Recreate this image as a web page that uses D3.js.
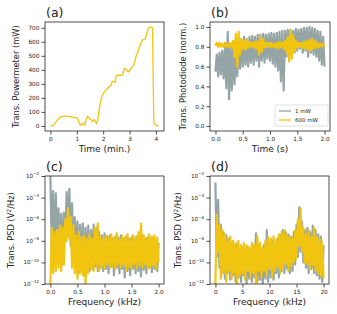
<!DOCTYPE html>
<html>
<head>
<meta charset="utf-8">
<script src="https://cdn.jsdelivr.net/npm/d3@7"></script>
<style>
  body { margin: 0; background: white; }
  text { font-family: "DejaVu Sans", sans-serif; fill: #222; }
</style>
</head>
<body>
<script>
'use strict';

// (a) transmitted power vs time
const powerTime = [0, 0.1, 0.2, 0.3, 0.4, 0.5, 0.6, 0.7, 0.8, 0.9, 1.0, 1.05, 1.1, 1.15, 1.2, 1.25, 1.3, 1.35, 1.4, 1.5,
  1.55, 1.6, 1.65, 1.7, 1.75, 1.8, 1.85, 1.9, 1.95, 2.0, 2.1, 2.2, 2.3, 2.35, 2.4, 2.45, 2.5, 2.6, 2.7, 2.75, 2.8, 2.85,
  2.9, 2.95, 3.0, 3.05, 3.1, 3.15, 3.2, 3.25, 3.3, 3.35, 3.45, 3.5, 3.55, 3.6, 3.65, 3.7, 3.75, 3.8, 3.85, 3.87, 3.92, 4.0, 4.1];
const powerMW = [0, 0, 25, 50, 65, 70, 70, 68, 65, 60, 60, 45, 15, 5, 15, 20, 5, 40, 70, 50,
  45, 30, 45, 35, 15, 50, 120, 170, 210, 230, 255, 275, 290, 320, 315, 310, 360, 362, 360, 370, 410, 405,
  395, 385, 395, 410, 420, 430, 460, 500, 520, 550, 600, 615, 615, 620, 660, 690, 705, 705, 700, 700, 20, 5, 0];

// (b) photodiode traces, sampled every 0.025 s from 0 to 2 s
const diodeTime = d3.range(81).map(i => i * 0.025);
const diode1mW = [0.55, 0.72, 0.50, 0.74, 0.52, 0.76, 0.48, 0.80, 0.38, 0.95, 0.27, 0.82, 0.36, 0.85, 0.42, 0.86,
  0.50, 0.88, 0.58, 0.86, 0.60, 0.90, 0.62, 0.88, 0.60, 0.90, 0.64, 0.91, 0.62, 0.90, 0.66, 0.92, 0.60, 0.92,
  0.66, 0.93, 0.64, 0.92, 0.68, 0.93, 0.66, 0.94, 0.63, 0.93, 0.60, 0.94, 0.56, 0.95, 0.45, 0.96, 0.36, 0.96,
  0.70, 0.97, 0.74, 0.97, 0.76, 0.96, 0.74, 0.98, 0.76, 0.97, 0.78, 0.98, 0.74, 0.99, 0.76, 0.99, 0.70, 1.00,
  0.74, 0.99, 0.72, 0.98, 0.70, 0.96, 0.66, 0.95, 0.62, 0.90, 0.60];
const diode600mW = [0.81, 0.84, 0.80, 0.84, 0.80, 0.83, 0.80, 0.84, 0.80, 0.83,
  0.80, 0.84, 0.79, 0.86,
  0.70, 0.93, 0.60, 0.95, 0.72, 0.88,
  0.78, 0.86, 0.77, 0.87, 0.79, 0.85, 0.80, 0.84, 0.79, 0.85,
  0.78, 0.86, 0.72, 0.90, 0.75, 0.88, 0.79, 0.84, 0.80, 0.84,
  0.80, 0.84, 0.80, 0.83, 0.79, 0.84, 0.78, 0.85, 0.80, 0.84,
  0.78, 0.86, 0.74, 0.90, 0.65, 0.96, 0.68, 0.92, 0.76, 0.86,
  0.79, 0.84, 0.80, 0.84, 0.79, 0.85, 0.78, 0.86, 0.77, 0.87,
  0.76, 0.88, 0.78, 0.86, 0.79, 0.84, 0.80, 0.83, 0.80, 0.83, 0.81];

// (c) PSD, log10(V^2/Hz), every 0.025 kHz from 0 to 2 kHz
const freqLow = d3.range(81).map(i => i * 0.025);
const psdLow1mW = [-2.0, -9.0, -3.4, -9.5, -3.6, -9.8, -5.0, -10.0, -5.5, -10.2, -5.4, -8.0, -3.5, -7.5, -3.2, -8.5,
  -4.5, -10.0, -5.8, -10.5, -6.2, -11.0, -6.5, -10.8, -6.4, -11.2, -6.8, -11.0, -6.6, -10.8, -7.0, -10.6,
  -6.5, -10.4, -6.8, -10.8, -7.2, -10.5, -7.5, -10.8, -7.3, -10.6, -7.6, -11.0, -7.5, -10.4, -7.8, -11.2,
  -7.6, -10.5, -7.7, -11.0, -7.5, -10.6, -7.8, -11.4, -7.6, -10.8, -7.8, -11.2, -7.7, -10.6, -7.9, -11.0,
  -7.6, -10.8, -7.8, -11.3, -7.5, -10.7, -7.8, -11.0, -7.7, -10.5, -7.9, -10.9, -7.8, -10.6, -8.0, -10.8, -8.2];
const psdLow600mW = [-12.0, -6.8, -11.0, -7.2, -10.8, -7.0, -10.5, -6.6, -10.8, -6.8, -10.2, -6.0, -8.0, -5.0, -7.8, -5.8,
  -10.5, -6.5, -11.0, -7.5, -11.5, -7.2, -11.0, -7.6, -11.2, -7.5, -12.0, -7.8, -11.0, -7.4, -10.6, -7.8,
  -10.8, -6.8, -10.2, -6.4, -10.8, -7.6, -10.4, -7.8, -10.6, -7.5, -10.2, -7.8, -10.5, -7.4, -10.3, -7.7,
  -10.6, -7.3, -10.2, -7.8, -10.5, -7.5, -10.3, -7.7, -10.8, -7.4, -10.4, -7.9, -10.6, -7.5, -10.2, -7.6,
  -10.5, -7.2, -10.3, -6.4, -10.5, -7.5, -10.2, -7.8, -10.6, -7.4, -10.4, -7.6, -10.3, -7.5, -10.6, -7.7, -10.0];

// (d) PSD, log10(V^2/Hz), every 0.25 kHz from 0 to 20 kHz
const freqHigh = d3.range(81).map(i => i * 0.25);
const psdHigh1mW = [-2.6, -9.5, -4.2, -10.5, -6.5, -11.0, -7.2, -11.5, -7.5, -11.0, -7.8, -11.6, -8.2, -11.2, -8.5, -11.8,
  -8.4, -11.4, -8.8, -11.8, -8.6, -11.2, -8.8, -12.0, -8.6, -11.5, -8.9, -11.8, -8.5, -11.4, -7.3, -11.8,
  -8.5, -11.6, -8.8, -12.0, -8.4, -11.5, -7.0, -11.8, -8.2, -11.4, -8.0, -11.6, -8.2, -11.0, -7.8, -11.4,
  -7.5, -10.8, -7.0, -11.0, -7.2, -10.6, -7.4, -11.0, -7.6, -10.8, -7.2, -10.2, -6.5, -9.5, -4.9, -9.0,
  -6.2, -10.0, -7.0, -10.5, -6.8, -11.0, -7.2, -10.6, -6.6, -11.0, -7.0, -11.2, -7.4, -11.5, -7.6, -11.8, -8.4];
const psdHigh600mW = [-12.0, -5.6, -9.0, -6.5, -11.5, -7.0, -11.0, -7.4, -11.8, -7.8, -10.8, -7.6, -11.5, -8.0, -11.0, -8.2,
  -12.0, -8.0, -11.2, -8.4, -11.0, -8.2, -11.6, -8.4, -10.8, -8.6, -11.4, -8.2, -11.0, -8.4, -12.0, -7.6,
  -10.8, -8.2, -11.4, -8.6, -10.8, -8.0, -11.2, -7.6, -10.6, -7.8, -11.4, -7.6, -10.8, -7.9, -10.5, -7.4,
  -11.0, -7.2, -10.6, -7.0, -10.2, -7.4, -10.8, -7.6, -10.4, -7.8, -10.0, -7.0, -9.6, -6.0, -8.5, -5.0,
  -9.0, -6.8, -10.0, -7.4, -10.2, -7.0, -10.6, -7.6, -10.2, -6.8, -10.8, -7.6, -11.0, -7.8, -11.2, -8.2, -11.5];

const grey = "#95a5a6";
const yellow = "#f1c40f";

(function() {
    let svg = "";

    window.onload = function() {
        svg = d3.select('body')
            .append('svg')
            .attr('width', 337)
            .attr('height', 314);

        // panel (a)
        let a = makeAxes({x0: 45, x1: 164, y0: 22, y1: 131},
            d3.scaleLinear().domain([-0.205, 4.305]), [0, 1, 2, 3, 4], d3.format('d'),
            d3.scaleLinear().domain([-36, 741]), d3.range(0, 701, 100), d3.format('d'));
        plotLine(a, powerTime, powerMW, yellow, 1.3);
        labels(a, "(a)", "Time (min.)", "Trans. Powermeter (mW)", 19);

        // panel (b)
        let b = makeAxes({x0: 210, x1: 330, y0: 22, y1: 131},
            d3.scaleLinear().domain([-0.1, 2.1]), [0, 0.5, 1, 1.5, 2], d3.format('.1f'),
            d3.scaleLinear().domain([-0.05, 1.05]), [0, 0.2, 0.4, 0.6, 0.8, 1.0], d3.format('.1f'));
        plotLine(b, diodeTime, diode1mW, grey, 2.2);
        plotLine(b, diodeTime, diode600mW, yellow, 2.2);
        labels(b, "(b)", "Time (s)", "Trans. Photodiode (norm.)", 186);
        makeLegend(b);

        // panel (c)
        let c = makeAxes({x0: 45, x1: 164, y0: 176, y1: 284},
            d3.scaleLinear().domain([-0.1, 2.1]), [0, 0.5, 1, 1.5, 2], d3.format('.1f'),
            d3.scaleLog().domain([1e-12, 1e-2]), [-12, -10, -8, -6, -4, -2], null);
        plotLine(c, freqLow, psdLow1mW.map(v => Math.pow(10, v)), grey, 2.2);
        plotLine(c, freqLow, psdLow600mW.map(v => Math.pow(10, v)), yellow, 2.2);
        labels(c, "(c)", "Frequency (kHz)", null, 14);

        // panel (d)
        let d = makeAxes({x0: 210, x1: 329, y0: 176, y1: 284},
            d3.scaleLinear().domain([-1, 21]), [0, 5, 10, 15, 20], d3.format('d'),
            d3.scaleLog().domain([1e-12, 1e-2]), [-12, -10, -8, -6, -4, -2], null);
        plotLine(d, freqHigh, psdHigh1mW.map(v => Math.pow(10, v)), grey, 2.2);
        plotLine(d, freqHigh, psdHigh600mW.map(v => Math.pow(10, v)), yellow, 2.2);
        labels(d, "(d)", "Frequency (kHz)", null, 181);
    }

    // frame, ticks and tick labels of one panel
    function makeAxes(box, xScale, xTicks, xFmt, yScale, yTicks, yFmt) {
        xScale.range([box.x0, box.x1]);
        yScale.range([box.y1, box.y0]);
        let isLog = yFmt === null;

        let clipId = "clip" + box.x0 + "_" + box.y0;
        svg.append("clipPath").attr("id", clipId)
            .append("rect")
            .attr("x", box.x0).attr("y", box.y0)
            .attr("width", box.x1 - box.x0).attr("height", box.y1 - box.y0);
        let plot = svg.append("g").attr("clip-path", "url(#" + clipId + ")");

        let xAxis = d3.axisBottom(xScale).tickValues(xTicks).tickFormat(xFmt).tickSize(3.5).tickPadding(2);
        let gx = svg.append("g")
            .attr("transform", "translate(0," + box.y1 + ")")
            .call(xAxis);
        let yAxis = d3.axisLeft(yScale)
            .tickValues(isLog ? yTicks.map(e => Math.pow(10, e)) : yTicks)
            .tickFormat(isLog ? () => "" : yFmt)
            .tickSize(3.5).tickPadding(2);
        let gy = svg.append("g")
            .attr("transform", "translate(" + box.x0 + ",0)")
            .call(yAxis);
        [gx, gy].forEach(g => {
            g.select(".domain").remove();
            g.selectAll("line").attr("stroke", "#222").attr("stroke-width", 0.8);
            g.selectAll("text").style("font-size", "5.8px").attr("fill", "#222");
        });

        if (isLog) {
            // 10^n labels with superscripts
            yTicks.forEach(e => {
                let t = svg.append("text")
                    .attr("x", box.x0 - 6)
                    .attr("y", yScale(Math.pow(10, e)) + 2)
                    .attr("text-anchor", "end")
                    .style("font-size", "5.6px");
                t.append("tspan").text("10");
                t.append("tspan").attr("dy", -2.6).style("font-size", "4px").text("\u2212" + Math.abs(e));
            });
        }

        svg.append("rect")
            .attr("x", box.x0).attr("y", box.y0)
            .attr("width", box.x1 - box.x0).attr("height", box.y1 - box.y0)
            .attr("fill", "none")
            .attr("stroke", "#222")
            .attr("stroke-width", 0.8);

        return {box: box, x: xScale, y: yScale, plot: plot};
    }

    function plotLine(ax, xs, ys, color, width) {
        let pts = xs.map((x, i) => [x, ys[i]]);
        let line = d3.line()
            .x(p => ax.x(p[0]))
            .y(p => ax.y(p[1]));
        ax.plot.append("path")
            .datum(pts)
            .attr("d", line)
            .attr("fill", "none")
            .attr("stroke", color)
            .attr("stroke-width", width)
            .attr("stroke-linejoin", "round");
    }

    // panel letter and axis titles
    function labels(ax, letter, xTitle, yTitle, yTitleX) {
        let box = ax.box;
        svg.append("text")
            .attr("x", box.x0 + 1)
            .attr("y", box.y0 - 5)
            .style("font-size", "12.5px")
            .text(letter);

        svg.append("text")
            .attr("x", (box.x0 + box.x1) / 2)
            .attr("y", box.y1 + 21)
            .attr("text-anchor", "middle")
            .style("font-size", "9px")
            .text(xTitle);

        let t = svg.append("text")
            .attr("transform", "translate(" + yTitleX + "," + ((box.y0 + box.y1) / 2) + ")rotate(-90)")
            .attr("text-anchor", "middle")
            .style("font-size", "8.3px");
        if (yTitle) {
            t.text(yTitle);
        } else {
            t.append("tspan").text("Trans. PSD (V");
            t.append("tspan").attr("dy", -3).style("font-size", "5.8px").text("2");
            t.append("tspan").attr("dy", 3).text("/Hz)");
        }
    }

    function makeLegend(ax) {
        let g = svg.append("g").attr("transform", "translate(275,105)");
        g.append("rect")
            .attr("width", 53).attr("height", 21)
            .attr("rx", 1.5)
            .attr("fill", "white").attr("fill-opacity", 0.8)
            .attr("stroke", "#ccc").attr("stroke-width", 0.6);
        let items = [["1 mW", grey], ["600 mW", yellow]];
        items.forEach((it, i) => {
            g.append("line")
                .attr("x1", 4).attr("x2", 16)
                .attr("y1", 6 + i * 9).attr("y2", 6 + i * 9)
                .attr("stroke", it[1]).attr("stroke-width", 1.3);
            g.append("text")
                .attr("x", 20).attr("y", 8 + i * 9)
                .style("font-size", "5.5px")
                .text(it[0]);
        });
    }
})();
</script>
</body>
</html>
